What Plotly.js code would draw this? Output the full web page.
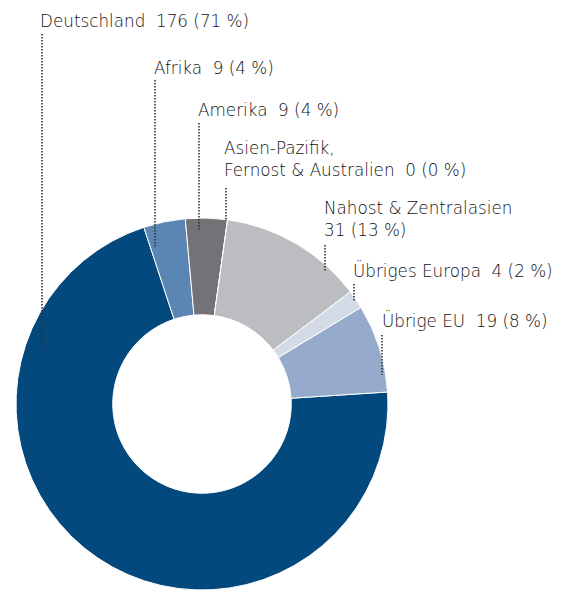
<!DOCTYPE html>
<html>
<head>
<meta charset="utf-8">
<script src="https://cdn.plot.ly/plotly-3.0.1.min.js"></script>
<style>
html,body{margin:0;padding:0;background:#fff;}
#chart{width:565px;height:590px;}
</style>
</head>
<body>
<div id="chart"></div>
<script>
// ---- data ----
const regions = ["Deutschland", "Afrika", "Amerika", "Asien-Pazifik, Fernost & Australien", "Nahost & Zentralasien", "Übriges Europa", "Übrige EU"];
const values = [176, 9, 9, 0, 31, 4, 19];
const percents = [71, 4, 4, 0, 13, 2, 8];
const labelTexts = [
  "Deutschland\u00a0 176 (71 %)",
  "Afrika\u00a0 9 (4 %)",
  "Amerika\u00a0 9 (4 %)",
  "Asien-Pazifik,<br>Fernost & Australien\u00a0 0 (0 %)",
  "Nahost & Zentralasien<br>31 (13 %)",
  "Übriges Europa\u00a0 4 (2 %)",
  "Übrige EU\u00a0 19 (8 %)"
];
const colors = ["#03497e", "#5b85b2", "#737377", "#9a9a9e", "#bcbdc0", "#d3dbe7", "#96abcb"];

// ---- layout helpers (pixel positions of labels and leader lines) ----
const W = 565, H = 590;
const px = x => x / W;
const py = y => 1 - y / H;
const labelPos = [ // [left x, vertical centre y]
  [39, 21], [153, 68], [197, 110], [223, 159], [323, 219], [352, 270], [381, 320]
];
const leader = [ // [x, yTop, yBottom]
  [42, 34, 351], [155, 80, 248], [199, 123, 231], [226, 188, 221],
  [325, 245, 272], [354, 284, 302], [382, 335, 375]
];

const cx = 202, cyPx = 404, R = 186;

const trace = {
  type: "pie",
  labels: regions,
  values: values,
  sort: false,
  direction: "clockwise",
  rotation: 86.3,
  hole: 0.48,
  textinfo: "none",
  hoverinfo: "label+value",
  marker: { colors: colors, line: { color: "#ffffff", width: 1 } },
  domain: { x: [px(cx - R), px(cx + R)], y: [py(cyPx + R), py(cyPx - R)] },
  showlegend: false
};

const font = { family: "'DejaVu Sans', sans-serif", size: 16.8, color: "#111111", weight: 300 };

const annotations = labelTexts.map((t, i) => ({
  xref: "paper", yref: "paper",
  x: px(labelPos[i][0]), y: py(labelPos[i][1]),
  xanchor: "left", yanchor: "middle", align: "left",
  text: t, showarrow: false, font: font, borderpad: 0
}));

const shapes = leader.map(l => ({
  type: "line", xref: "paper", yref: "paper",
  x0: px(l[0]), x1: px(l[0]), y0: py(l[1]), y1: py(l[2]),
  line: { color: "#333333", width: 1.6, dash: "1.5px,1.5px" }
}));

const layout = {
  width: W, height: H,
  margin: { l: 0, r: 0, t: 0, b: 0 },
  paper_bgcolor: "#ffffff",
  annotations: annotations,
  shapes: shapes,
  showlegend: false
};

Plotly.newPlot("chart", [trace], layout, { displayModeBar: false, staticPlot: true });
</script>
</body>
</html>
